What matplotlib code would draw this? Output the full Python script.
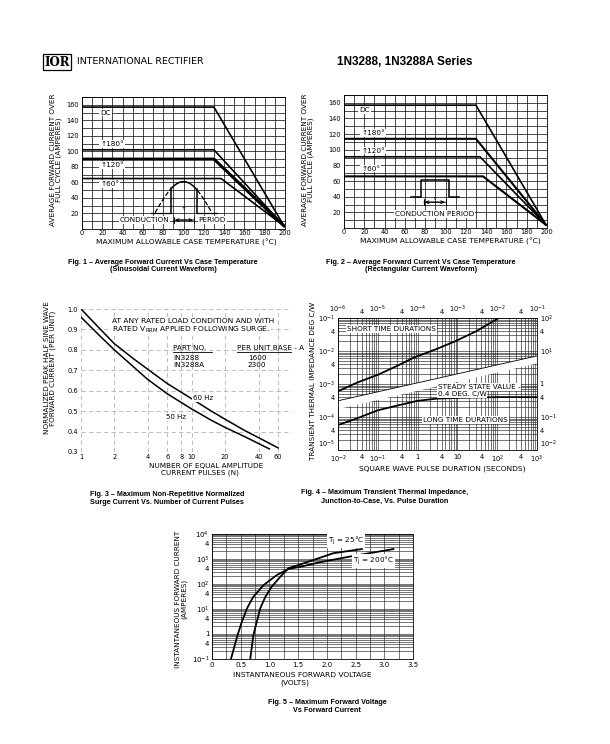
import matplotlib
matplotlib.use("Agg")
import matplotlib.pyplot as plt
from matplotlib.patches import Rectangle
from matplotlib.ticker import MultipleLocator, FixedLocator, NullFormatter, LogLocator
import numpy as np

W, H = 610, 744

# ---- Fig 1: sinusoidal waveform, case temp (C) vs average current (A)
f1_dc_t, f1_dc_a = [0, 130, 199], [157, 157, 4]
f1_180_t, f1_180_a = [0, 130, 199], [102, 102, 4]
f1_120_t, f1_120_a = [0, 130, 199], [90, 90, 4]
f1_60_t, f1_60_a = [0, 137, 199], [65, 65, 4]

# ---- Fig 2: rectangular waveform
f2_dc_t, f2_dc_a = [0, 130, 199], [157, 157, 4]
f2_180_t, f2_180_a = [0, 130, 199], [114, 114, 4]
f2_120_t, f2_120_a = [0, 134, 199], [91, 91, 4]
f2_60_t, f2_60_a = [0, 137, 199], [66, 66, 4]

# ---- Fig 3: surge current vs number of pulses
f3_n60 = [1, 1.5, 2, 3, 4, 6, 10, 15, 20, 30, 40, 60]
f3_i60 = [1.0, 0.90, 0.83, 0.755, 0.705, 0.635, 0.56, 0.50, 0.46, 0.405, 0.37, 0.32]
f3_n50 = [1, 1.5, 2, 3, 4, 6, 10, 15, 20, 30, 50]
f3_i50 = [0.96, 0.865, 0.80, 0.715, 0.655, 0.585, 0.51, 0.455, 0.42, 0.375, 0.315]

# ---- Fig 4: transient thermal impedance
short_t = [1e-6, 3e-6, 1e-5, 3e-5, 8e-5, 3e-4, 9e-4, 3e-3, 1.1e-2]
short_z = [6e-4, 1.1e-3, 1.9e-3, 3.5e-3, 6.3e-3, 1.15e-2, 2.0e-2, 4.0e-2, 1e-1]
long_t = [1e-2, 3e-2, 1e-1, 3e-1, 1, 3, 10, 100, 1000]
long_z = [0.057, 0.091, 0.16, 0.22, 0.31, 0.36, 0.38, 0.40, 0.40]

# ---- Fig 5: forward voltage vs forward current
v_25 = [0.666, 0.72, 0.78, 0.84, 0.93, 1.04, 1.19, 1.33, 1.54, 1.88, 2.11, 2.61]
i_25 = [0.1, 0.9, 3.1, 10.7, 31, 78, 195, 427, 610, 1120, 1700, 2500]
v_200 = [0.33, 0.445, 0.52, 0.61, 0.72, 0.90, 1.13, 1.33, 1.54, 1.88, 2.40, 3.16]
i_200 = [0.1, 0.9, 3.1, 10.7, 31, 91, 229, 400, 490, 740, 1250, 2500]

plt.rcParams['font.family'] = ['DejaVu Sans']
plt.rcParams['font.size'] = 5
cap_font = ['Liberation Sans Narrow', 'Liberation Sans', 'DejaVu Sans']

fig = plt.figure(figsize=(W / 100, H / 100), dpi=100)


def add_ax(l, t, r, b, **kw):
    return fig.add_axes([l / W, 1 - b / H, (r - l) / W, (b - t) / H], **kw)


def ptext(x, y, s, **kw):
    return fig.text(x / W, 1 - y / H, s, **kw)


wbox = dict(facecolor='white', edgecolor='none', pad=0.6)

# header
ptext(57, 62, "IOR", family='DejaVu Serif', weight='bold', size=8.5, ha='center', va='center',
      bbox=dict(facecolor='white', edgecolor='black', lw=0.9, pad=1.2))
ptext(77, 62, "INTERNATIONAL RECTIFIER", size=6.8, ha='left', va='center')
ptext(337, 62, "1N3288, 1N3288A Series", family=cap_font[1:], weight='bold', size=8.5,
      ha='left', va='center')


def temp_axes(ax):
    ax.set_xlim(0, 200)
    ax.set_ylim(0, 170)
    ax.xaxis.set_major_locator(MultipleLocator(20))
    ax.xaxis.set_minor_locator(MultipleLocator(10))
    ax.set_yticks(range(20, 161, 20))
    ax.yaxis.set_minor_locator(MultipleLocator(10))
    ax.grid(which='both', color='black', lw=0.5)
    ax.tick_params(which='both', length=0, labelsize=4.8)
    ax.tick_params(axis='x', pad=1)
    ax.tick_params(axis='y', pad=2)
    for s in ax.spines.values():
        s.set_linewidth(0.6)


def caption(x, y, l1, l2, dy=8):
    ptext(x, y, l1, family=cap_font, weight='bold', size=5.2, ha='center', va='center')
    ptext(x, y + dy, l2, family=cap_font, weight='bold', size=5.2, ha='center', va='center')


# ---- Fig 1
ax1 = add_ax(82, 97, 285, 229)
temp_axes(ax1)
ax1.add_patch(Rectangle((66, 14), 72, 52, facecolor='white', edgecolor='none', zorder=1.5))
ax1.plot(f1_dc_t, f1_dc_a, color='black', lw=1.2, zorder=3)
ax1.plot(f1_180_t, f1_180_a, color='black', lw=1.2, zorder=3)
ax1.plot(f1_120_t, f1_120_a, color='black', lw=2.2, zorder=3)
ax1.plot(f1_60_t, f1_60_a, color='black', lw=1.2, zorder=3)
for x, y, s in [(18, 150, "DC"), (18, 109, "↑180°"), (18, 82, "↑120°"), (18, 58, "↑60°")]:
    ax1.text(x, y, s, size=5.2, va='center', ha='left', bbox=wbox, zorder=2)
# sine waveform sketch
sx = np.linspace(72, 128, 60)
sy = 21 + 40 * np.sin((sx - 72) / 56 * np.pi)
on = (sx >= 88) & (sx <= 113)
ax1.plot(sx[sx <= 88], sy[sx <= 88], 'k--', lw=0.9, zorder=3)
ax1.plot(sx[sx >= 113], sy[sx >= 113], 'k--', lw=0.9, zorder=3)
ax1.plot(sx[on], sy[on], 'k-', lw=1.1, zorder=3)
ax1.plot([88, 88], [21, sy[on][0]], 'k-', lw=1.1, zorder=3)
ax1.plot([113, 113], [21, sy[on][-1]], 'k-', lw=1.1, zorder=3)
ax1.plot([68, 88], [21, 21], 'k-', lw=0.9, zorder=3)
ax1.plot([113, 133], [21, 21], 'k-', lw=0.9, zorder=3)
ax1.text(100, 23, "τ", size=4.5, ha='center', va='bottom', zorder=3)
ax1.annotate("", xy=(113, 11.5), xytext=(88, 11.5),
             arrowprops=dict(arrowstyle='|-|', lw=0.7, mutation_scale=2), zorder=3)
ax1.annotate("", xy=(112, 11.5), xytext=(89, 11.5),
             arrowprops=dict(arrowstyle='<->', lw=0.7, mutation_scale=5), zorder=3)
ax1.text(86, 11.5, "CONDUCTION", size=5.2, ha='right', va='center', bbox=wbox, zorder=2.5)
ax1.text(115, 11.5, "PERIOD", size=5.2, ha='left', va='center', bbox=wbox, zorder=2.5)
ptext(56, 160, "AVERAGE FORWARD CURRENT OVER\nFULL CYCLE (AMPERES)", rotation=90,
      ha='center', va='center', size=5.2, linespacing=1.0)
ptext(186, 242, "MAXIMUM ALLOWABLE CASE TEMPERATURE (°C)", ha='center', va='center', size=5.4)
caption(163, 262, "Fig. 1 – Average Forward Current Vs Case Temperature",
        "(Sinusoidal Current Waveform)", dy=7.5)

# ---- Fig 2
ax2 = add_ax(344, 95, 547, 228)
temp_axes(ax2)
ax2.add_patch(Rectangle((62, 27), 54, 39, facecolor='white', edgecolor='none', zorder=1.5))
ax2.plot(f2_dc_t, f2_dc_a, color='black', lw=1.2, zorder=3)
ax2.plot(f2_180_t, f2_180_a, color='black', lw=1.5, zorder=3)
ax2.plot(f2_120_t, f2_120_a, color='black', lw=1.2, zorder=3)
ax2.plot(f2_60_t, f2_60_a, color='black', lw=1.5, zorder=3)
for x, y, s in [(15, 151, "DC"), (17, 121, "↑180°"), (17, 99, "↑120°"), (17, 76, "↑60°")]:
    ax2.text(x, y, s, size=5.2, va='center', ha='left', bbox=wbox, zorder=2)
ax2.plot([66, 76, 76, 103, 103, 113], [39.5, 39.5, 61, 61, 39.5, 39.5], 'k-', lw=1.1, zorder=3)
ax2.annotate("", xy=(103, 33), xytext=(76, 33),
             arrowprops=dict(arrowstyle='|-|', lw=0.7, mutation_scale=2), zorder=3)
ax2.annotate("", xy=(102, 33), xytext=(77, 33),
             arrowprops=dict(arrowstyle='<->', lw=0.7, mutation_scale=5), zorder=3)
ax2.text(89.5, 34, "τ", size=4.5, ha='center', va='bottom', zorder=3)
ax2.text(89.5, 17.5, "CONDUCTION PERIOD", size=5.2, ha='center', va='center', bbox=wbox, zorder=2.5)
ptext(308, 160, "AVERAGE FORWARD CURRENT OVER\nFULL CYCLE (AMPERES)", rotation=90,
      ha='center', va='center', size=5.2, linespacing=1.0)
ptext(450, 241, "MAXIMUM ALLOWABLE CASE TEMPERATURE (°C)", ha='center', va='center', size=5.4)
caption(421, 262, "Fig. 2 – Average Forward Current Vs Case Temperature",
        "(Rectangular Current Waveform)", dy=7.5)

# ---- Fig 3
ax3 = add_ax(81, 309, 292, 452)
ax3.set_xscale('log')
ax3.set_xlim(1, 80)
ax3.set_ylim(0.3, 1.0)
ax3.xaxis.set_major_locator(FixedLocator([1, 2, 4, 6, 8, 10, 20, 40, 60]))
ax3.set_xticklabels(["1", "2", "4", "6", "8", "10", "20", "40", "60"])
ax3.xaxis.set_minor_formatter(NullFormatter())
ax3.xaxis.set_minor_locator(FixedLocator([]))
ax3.set_yticks([0.3, 0.4, 0.5, 0.6, 0.7, 0.8, 0.9, 1.0])
ax3.set_yticklabels(["0.3", "0.4", "0.5", "0.6", "0.7", "0.8", "0.9", "1.0"])
ax3.grid(which='major', color='0.6', lw=0.45, ls=(0, (7, 5)))
for s in ax3.spines.values():
    s.set_visible(False)
ax3.tick_params(length=0, labelsize=4.8)
ax3.tick_params(axis='x', pad=1.5)
ax3.tick_params(axis='y', pad=2)
ax3.plot(f3_n60, f3_i60, color='black', lw=1.1)
ax3.plot(f3_n50, f3_i50, color='black', lw=1.1)
ax3.text(10.3, 0.565, "60 Hz", size=5, ha='left', va='center', bbox=wbox)
ax3.text(5.8, 0.47, "50 Hz", size=5, ha='left', va='center', bbox=wbox)
ax3.text(0.147, 0.918, "AT ANY RATED LOAD CONDITION AND WITH", transform=ax3.transAxes,
         size=5.4, ha='left', va='center', bbox=wbox)
ax3.text(0.147, 0.852, "RATED V$_{\\mathregular{RRM}}$ APPLIED FOLLOWING SURGE.",
         transform=ax3.transAxes, size=5.4, ha='left', va='center', bbox=wbox)
ax3.text(0.436, 0.727, "PART NO.", transform=ax3.transAxes, size=5.2, ha='left', va='center')
ax3.text(0.739, 0.727, "PER UNIT BASE - A", transform=ax3.transAxes, size=5.2, ha='left',
         va='center')
ax3.plot([0.436, 0.62], [0.70, 0.70], transform=ax3.transAxes, color='black', lw=0.6)
ax3.plot([0.739, 1.0], [0.70, 0.70], transform=ax3.transAxes, color='black', lw=0.6)
ax3.text(0.436, 0.657, "IN3288", transform=ax3.transAxes, size=5.2, ha='left', va='center')
ax3.text(0.436, 0.608, "IN3288A", transform=ax3.transAxes, size=5.2, ha='left', va='center')
ax3.text(0.834, 0.657, "1600", transform=ax3.transAxes, size=5.2, ha='center', va='center')
ax3.text(0.834, 0.608, "2300", transform=ax3.transAxes, size=5.2, ha='center', va='center')
ptext(50, 368, "NORMALIZED PEAK HALF SINE WAVE\nFORWARD CURRENT (PER UNIT)", rotation=90,
      ha='center', va='center', size=5.2, linespacing=1.0)
ptext(206, 466, "NUMBER OF EQUAL AMPLITUDE", ha='center', va='center', size=5.2)
ptext(200, 473, "CURRENT PULSES (N)", ha='center', va='center', size=5.2)
caption(167, 495, "Fig. 3 – Maximum Non-Repetitive Normalized",
        "Surge Current Vs. Number of Current Pulses")

# ---- Fig 4
rect4 = (338, 318, 537, 450)
ax4 = add_ax(*rect4)
ax4.set_xscale('log')
ax4.set_yscale('log')
ax4.set_xlim(1e-2, 1e3)
ax4.set_ylim(1e-2, 1e2)
ax4.xaxis.set_minor_locator(LogLocator(base=10, subs=np.arange(2, 10)))
ax4.yaxis.set_minor_locator(LogLocator(base=10, subs=np.arange(2, 10)))
ax4.grid(which='both', color='0.15', lw=0.45)
bx = [1e-2, 1e-2 * 4, 1e-1, 0.4, 1, 4, 10, 40, 100, 400, 1000]
ax4.xaxis.set_major_locator(FixedLocator(bx))
ax4.xaxis.set_minor_formatter(NullFormatter())
ax4.set_xticklabels(["$10^{-2}$", "4", "$10^{-1}$", "4", "1", "4", "10", "4", "$10^{2}$", "4",
                     "$10^{3}$"])
ry = [1e-2, 4e-2, 1e-1, 0.4, 1, 10, 40, 100]
ax4.yaxis.tick_right()
ax4.yaxis.set_major_locator(FixedLocator(ry))
ax4.yaxis.set_minor_formatter(NullFormatter())
ax4.set_yticklabels(["$10^{-2}$", "4", "$10^{-1}$", "4", "1", "$10^{1}$", "4", "$10^{2}$"])
ax4.tick_params(which='both', length=0, pad=2, labelsize=4.8)
ax4.tick_params(axis='x', pad=3)
ax4.get_yticklabels()[0].set_va('bottom')
# white band between the two families
band_x = [1e-2, 1e3]
ax4.fill_between(band_x, [0.19, 4.6], [0.31, 7.1], color='white', zorder=2)
ax4.plot(band_x, [0.31, 7.1], color='black', lw=0.6, zorder=2.1)
ax4.plot(long_t, long_z, color='black', lw=1.3, zorder=3)
ax4.text(0.045, 0.917, "SHORT TIME DURATIONS", transform=ax4.transAxes, size=5.2,
         ha='left', va='center', bbox=wbox, zorder=4)
ax4.text(0.50, 0.477, "STEADY STATE VALUE -", transform=ax4.transAxes, size=5.2,
         ha='left', va='center', bbox=wbox, zorder=4)
ax4.text(0.50, 0.424, "0.4 DEG. C/W", transform=ax4.transAxes, size=5.2,
         ha='left', va='center', bbox=wbox, zorder=4)
ax4.text(0.427, 0.227, "LONG TIME DURATIONS", transform=ax4.transAxes, size=5.2,
         ha='left', va='center', bbox=wbox, zorder=4)
for s in ax4.spines.values():
    s.set_linewidth(0.6)

ax4b = add_ax(*rect4, frameon=False)
ax4b.set_xscale('log')
ax4b.set_yscale('log')
ax4b.set_xlim(1e-6, 1e-1)
ax4b.set_ylim(1e-5, 1e-1)
ax4b.patch.set_alpha(0)
tx = [1e-6, 4e-6, 1e-5, 4e-5, 1e-4, 4e-4, 1e-3, 4e-3, 1e-2, 4e-2, 1e-1]
ax4b.xaxis.tick_top()
ax4b.xaxis.set_major_locator(FixedLocator(tx))
ax4b.xaxis.set_minor_locator(FixedLocator([]))
ax4b.set_xticklabels(["$10^{-6}$", "4", "$10^{-5}$", "4", "$10^{-4}$", "4", "$10^{-3}$", "4",
                      "$10^{-2}$", "4", "$10^{-1}$"])
ly = [1e-5, 4e-5, 1e-4, 4e-4, 1e-3, 4e-3, 1e-2, 4e-2, 1e-1]
ax4b.yaxis.set_major_locator(FixedLocator(ly))
ax4b.yaxis.set_minor_locator(FixedLocator([]))
ax4b.set_yticklabels(["$10^{-5}$", "4", "$10^{-4}$", "4", "$10^{-3}$", "4", "$10^{-2}$", "4",
                      "$10^{-1}$"])
ax4b.tick_params(which='both', length=0, pad=2, labelsize=4.8)
ax4b.get_yticklabels()[0].set_va('bottom')
ax4b.plot(short_t, short_z, color='black', lw=1.3, zorder=3)
ptext(313, 381, "TRANSIENT THERMAL IMPEDANCE DEG C/W", rotation=90, ha='center', va='center',
      size=5.2)
ptext(442, 469, "SQUARE WAVE PULSE DURATION (SECONDS)", ha='center', va='center', size=5.4)
caption(385, 493, "Fig. 4 – Maximum Transient Thermal Impedance,",
        "Junction-to-Case, Vs. Pulse Duration")

# ---- Fig 5
ax5 = add_ax(212, 534, 413, 659)
ax5.set_yscale('log')
ax5.set_xlim(0, 3.5)
ax5.set_ylim(0.1, 1e4)
ax5.set_xticks([0, 0.5, 1.0, 1.5, 2.0, 2.5, 3.0, 3.5])
ax5.set_xticklabels(["0", "0.5", "1.0", "1.5", "2.0", "2.5", "3.0", "3.5"])
ax5.xaxis.set_minor_locator(MultipleLocator(0.25))
ax5.yaxis.set_minor_locator(LogLocator(base=10, subs=np.arange(2, 10)))
ax5.grid(which='both', color='0.15', lw=0.45)
ax5.yaxis.set_major_locator(FixedLocator([0.1, 0.4, 1, 4, 10, 40, 100, 400, 1000, 4000, 1e4]))
ax5.yaxis.set_minor_formatter(NullFormatter())
ax5.set_yticklabels(["$10^{-1}$", "4", "1", "4", "$10^{1}$", "4", "$10^{2}$", "4", "$10^{3}$",
                     "4", "$10^{4}$"])
ax5.tick_params(which='both', length=0, pad=2, labelsize=5)
for s in ax5.spines.values():
    s.set_linewidth(0.6)
ax5.plot(v_25, i_25, color='black', lw=1.3, zorder=3)
ax5.plot(v_200, i_200, color='black', lw=1.3, zorder=3)
ax5.text(2.02, 5500, "T$_\\mathregular{J}$ = 25°C", size=5.2, ha='left', va='center', bbox=wbox,
         zorder=4)
ax5.text(2.46, 850, "T$_\\mathregular{J}$ = 200°C", size=5.2, ha='left', va='center', bbox=wbox,
         zorder=4)
ptext(181, 599, "INSTANTANEOUS FORWARD CURRENT\n(AMPERES)", rotation=90, ha='center',
      va='center', size=5.2, linespacing=1.0)
ptext(302, 675, "INSTANTANEOUS FORWARD VOLTAGE", ha='center', va='center', size=5.4)
ptext(295, 683, "(VOLTS)", ha='center', va='center', size=5.4)
caption(327, 703, "Fig. 5 – Maximum Forward Voltage", "Vs Forward Current")

fig.savefig("out.png", dpi=100)
